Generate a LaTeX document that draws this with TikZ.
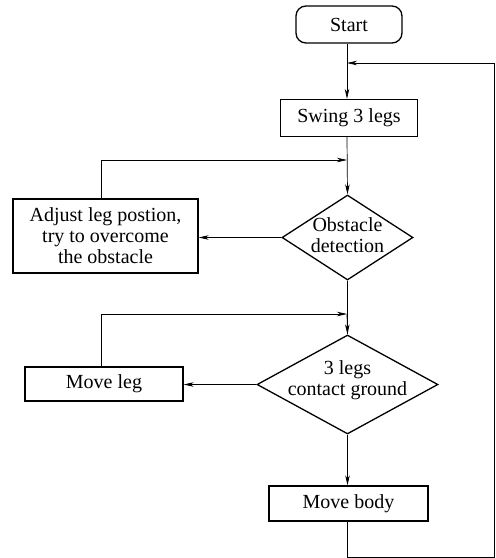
\documentclass[tikz,border=0pt]{standalone}
\usepackage{fontspec}
\setmainfont{Liberation Serif}
\usetikzlibrary{shapes.geometric,arrows.meta}
\begin{document}
\begin{tikzpicture}[x=1pt,y=-1pt,
  font=\fontsize{20}{21}\selectfont,
  box/.style={draw,line width=1.3pt,inner sep=0pt,align=center},
  dia/.style={draw,diamond,line width=1.3pt,inner sep=0pt},
  lbl/.style={inner sep=0pt,align=center},
  conn/.style={line width=0.7pt},
  arr/.style={conn,-{Stealth[length=10pt,width=4.5pt,inset=3pt]}}]
\useasboundingbox (0,0) rectangle (496,558);
\node[box,rounded corners=10pt,minimum width=106pt,minimum height=37pt] (start) at (349,24.5) {Start};
\node[box,minimum width=137pt,minimum height=37pt] (swing) at (349,118) {Swing 3 legs};
\node[dia,minimum width=131pt,minimum height=85pt] (obs) at (347.5,237.5) {};
\node[lbl] (obst) at (347.5,235) {Obstacle\\detection};
\node[box,minimum width=185pt,minimum height=74pt] (adj) at (105.5,236) {Adjust leg postion,\\try to overcome\\the obstacle};
\node[dia,minimum width=181pt,minimum height=99pt] (cont) at (347.5,384.5) {};
\node[lbl] (contt) at (347.5,380) {3 legs\\contact ground};
\node[box,minimum width=158pt,minimum height=34pt] (leg) at (104,384) {Move leg};
\node[box,minimum width=159pt,minimum height=35pt] (body) at (348.5,503.5) {Move body};
\coordinate (m1) at (347,63);
\coordinate (m2) at (347,160);
\coordinate (m3) at (347,314);
\coordinate (br) at (494,557);
\draw[arr] (start.south -| m1) -- (swing.north -| m1);
\draw[arr] (swing.south -| m1) -- (obs.north);
\draw[arr] (obs.west) -- (adj.east |- obs.west);
\draw[arr] (adj.north -| 101,0) |- (m2);
\draw[conn] (obs.south) -- (cont.north);
\draw[arr] (m3) -- (cont.north);
\draw[arr] (cont.west) -- (leg.east |- cont.west);
\draw[arr] (leg.north -| 101,0) |- (m3);
\draw[arr] (cont.south) -- (body.north -| cont.south);
\draw[arr] (body.south -| m1) |- (br) |- (m1);
\end{tikzpicture}
\end{document}
